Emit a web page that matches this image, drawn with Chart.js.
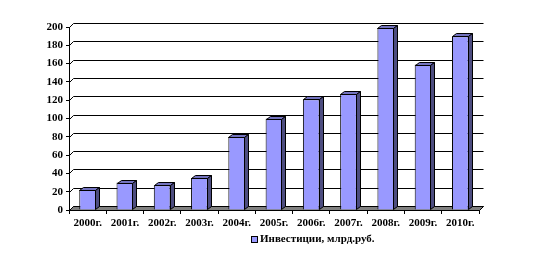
<!DOCTYPE html>
<html>
<head>
<meta charset="utf-8">
<script src="https://cdn.jsdelivr.net/npm/chart.js@4/dist/chart.umd.min.js"></script>
<style>
html,body{margin:0;padding:0;background:#fff;}
#wrap{width:548px;height:253px;position:relative;}
</style>
</head>
<body>
<div id="wrap"><canvas id="c" width="548" height="253"></canvas></div>
<script>
const categories = ["2000г.","2001г.","2002г.","2003г.","2004г.","2005г.","2006г.","2007г.","2008г.","2009г.","2010г."];
const investments = [22, 30, 27, 35, 80, 100, 121, 127, 199, 159, 190];
const seriesLabel = "Инвестиции, млрд.руб.";
const yTicks = [0, 20, 40, 60, 80, 100, 120, 140, 160, 180, 200];

const FONT = "'Liberation Serif','Times New Roman',serif";
const WALL_DX = 4, WALL_DY = -4;
const BAR_DX = 4, BAR_DY = -3;

const threeD = {
  id: 'threeD',
  beforeDatasetsDraw(chart) {
    const ctx = chart.ctx, a = chart.chartArea, ys = chart.scales.y;
    ctx.save();
    ctx.strokeStyle = '#000';
    ctx.lineWidth = 1;
    yTicks.forEach(v => {
      const y = Math.round(ys.getPixelForValue(v)) + 0.5;
      ctx.beginPath();
      ctx.moveTo(a.left + 0.5, y);
      ctx.lineTo(a.left + WALL_DX + 0.5, y + WALL_DY);
      ctx.lineTo(a.right + WALL_DX + 0.5, y + WALL_DY);
      ctx.stroke();
    });
    const b = Math.round(ys.getPixelForValue(0)) + 0.5;
    ctx.beginPath();
    ctx.moveTo(a.left + 0.5, b);
    ctx.lineTo(a.left + WALL_DX + 0.5, b + WALL_DY);
    ctx.lineTo(a.right + WALL_DX + 0.5, b + WALL_DY);
    ctx.lineTo(a.right + 0.5, b);
    ctx.closePath();
    ctx.fillStyle = '#808080';
    ctx.fill();
    ctx.stroke();
    ctx.restore();
  },
  afterDatasetsDraw(chart) {
    const ctx = chart.ctx;
    const meta = chart.getDatasetMeta(0);
    ctx.save();
    ctx.strokeStyle = '#000';
    ctx.lineWidth = 1;
    meta.data.forEach(el => {
      const p = el.getProps(['x', 'y', 'base', 'width'], true);
      const l = Math.round(p.x - p.width / 2) + 0.5;
      const r = Math.round(p.x + p.width / 2) - 0.5;
      const t = Math.round(p.y) + 0.5;
      const bb = Math.round(p.base) - 0.5;
      ctx.beginPath();
      ctx.moveTo(l, t);
      ctx.lineTo(l + BAR_DX, t + BAR_DY);
      ctx.lineTo(r + BAR_DX, t + BAR_DY);
      ctx.lineTo(r, t);
      ctx.closePath();
      ctx.fillStyle = '#7373BF';
      ctx.fill();
      ctx.stroke();
      ctx.beginPath();
      ctx.moveTo(r, t);
      ctx.lineTo(r + BAR_DX, t + BAR_DY);
      ctx.lineTo(r + BAR_DX, bb + BAR_DY);
      ctx.lineTo(r, bb);
      ctx.closePath();
      ctx.fillStyle = '#4D4D80';
      ctx.fill();
      ctx.stroke();
    });
    ctx.restore();
  }
};

const legendPlugin = {
  id: 'customLegend',
  afterDraw(chart) {
    const ctx = chart.ctx;
    const ds = chart.data.datasets[0];
    ctx.save();
    ctx.fillStyle = ds.backgroundColor;
    ctx.fillRect(251, 236, 6, 6);
    ctx.strokeStyle = '#000';
    ctx.lineWidth = 1;
    ctx.strokeRect(251.5, 236.5, 6, 6);
    ctx.fillStyle = '#000';
    ctx.font = 'bold 11px ' + FONT;
    ctx.textBaseline = 'middle';
    ctx.textAlign = 'left';
    ctx.fillText(ds.label, 260, 239.5);
    ctx.restore();
  }
};

new Chart(document.getElementById('c'), {
  type: 'bar',
  data: {
    labels: categories,
    datasets: [{
      label: seriesLabel,
      data: investments,
      backgroundColor: '#9999FF',
      borderColor: '#000000',
      borderWidth: 1,
      barPercentage: 0.45,
      categoryPercentage: 1.0
    }]
  },
  options: {
    responsive: false,
    animation: false,
    devicePixelRatio: 1,
    layout: { padding: { top: 27, right: 69, bottom: 0, left: 0 } },
    plugins: {
      legend: { display: false },
      tooltip: { enabled: false }
    },
    scales: {
      x: {
        grid: { drawOnChartArea: false, drawTicks: true, tickLength: 4, color: '#000', offset: true },
        border: { display: true, color: '#000', width: 1 },
        ticks: { color: '#000', font: { family: FONT, size: 11, weight: 'bold' }, padding: 3, maxRotation: 0, autoSkip: false },
        afterFit(s) { s.height = 43; }
      },
      y: {
        min: 0, max: 200,
        afterBuildTicks(s) { s.ticks = yTicks.map(v => ({ value: v })); },
        grid: { drawOnChartArea: false, drawTicks: true, tickLength: 3, color: '#000' },
        border: { display: true, color: '#000', width: 1 },
        ticks: { color: '#000', font: { family: FONT, size: 11, weight: 'bold' }, padding: 3 },
        afterFit(s) { s.width = 69; }
      }
    }
  },
  plugins: [threeD, legendPlugin]
});
</script>
</body>
</html>
